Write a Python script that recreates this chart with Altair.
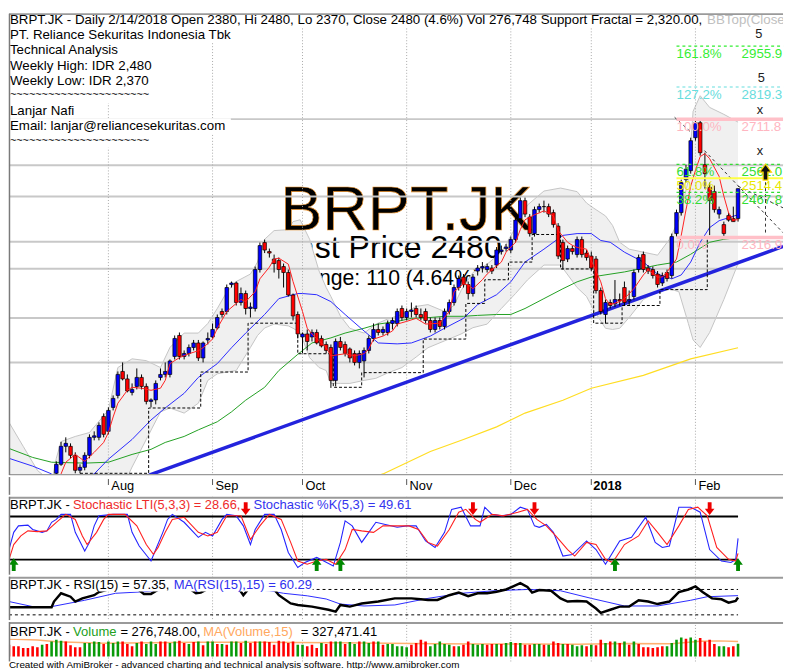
import altair as alt
import pandas as pd

FONT = "Liberation Sans"
W = 785
HP, HS, HK, HR, HV = 468, 18, 79, 44, 40

# ---------------- daily candles (index 0 = first visible bar, mid July 2017) ----------------
opens = [1530, 1560, 1620, 1620, 1590, 1540, 1550, 1590, 1650, 1650,
         1720, 1670, 1750, 1790, 1870, 1845, 1800, 1820, 1850, 1820,
         1770, 1775, 1850, 1860, 1860, 1920, 1990, 1920, 1930, 1950,
         1965, 1915, 1975, 1985, 2015, 2070, 2070, 2160, 2165, 2100,
         2130, 2080, 2080, 2210, 2300, 2270, 2245, 2240, 2220, 2200,
         2125, 2060, 1985, 1995, 1985, 2000, 1980, 1960, 1950, 1840,
         1970, 1960, 1945, 1930, 1900, 1905, 1940, 1980, 2010, 2000,
         2000, 2030, 2030, 2080, 2050, 2070, 2080, 2060, 2070, 2040,
         2010, 2040, 2020, 2070, 2100, 2150, 2185, 2160, 2130, 2205,
         2215, 2210, 2215, 2225, 2270, 2280, 2275, 2310, 2380, 2440,
         2385, 2330, 2410, 2420, 2420, 2400, 2355, 2300, 2245, 2280,
         2260, 2310, 2265, 2255, 2245, 2140, 2060, 2100, 2095, 2110,
         2150, 2105, 2120, 2210, 2260, 2215, 2210, 2195, 2165, 2200,
         2190, 2330, 2400, 2510, 2540, 2650, 2700, 2560, 2485, 2470,
         2395, 2360, 2390, 2380, 2380]
highs = [1570, 1635, 1650, 1630, 1600, 1560, 1600, 1660, 1670, 1700,
         1730, 1750, 1790, 1870, 1900, 1860, 1830, 1880, 1860, 1830,
         1780, 1840, 1880, 1900, 1910, 1990, 2000, 1940, 1960, 1975,
         1975, 1970, 2000, 2030, 2060, 2080, 2160, 2170, 2170, 2150,
         2140, 2100, 2220, 2300, 2310, 2280, 2260, 2250, 2230, 2210,
         2130, 2070, 2000, 2010, 2010, 2010, 1990, 1970, 1960, 1980,
         1985, 1970, 1950, 1940, 1940, 1950, 1990, 2030, 2030, 2020,
         2040, 2050, 2080, 2090, 2080, 2100, 2090, 2080, 2080, 2050,
         2050, 2050, 2080, 2110, 2160, 2190, 2195, 2170, 2195, 2225,
         2235, 2230, 2225, 2285, 2290, 2295, 2320, 2385, 2450, 2450,
         2395, 2420, 2430, 2440, 2430, 2410, 2365, 2310, 2290, 2290,
         2320, 2320, 2275, 2270, 2255, 2150, 2110, 2110, 2175, 2130,
         2170, 2140, 2210, 2260, 2270, 2225, 2220, 2205, 2200, 2210,
         2330, 2410, 2510, 2560, 2650, 2710, 2712, 2600, 2500, 2490,
         2420, 2370, 2400, 2420, 2480]
lows = [1510, 1555, 1600, 1580, 1530, 1530, 1540, 1580, 1640, 1640,
        1650, 1660, 1740, 1780, 1840, 1800, 1790, 1810, 1810, 1760,
        1750, 1760, 1840, 1850, 1850, 1910, 1910, 1910, 1920, 1940,
        1905, 1900, 1960, 1980, 2010, 2050, 2060, 2150, 2090, 2090,
        2060, 2050, 2070, 2200, 2265, 2250, 2200, 2180, 2150, 2120,
        2040, 1980, 1930, 1940, 1970, 1960, 1950, 1930, 1815, 1820,
        1940, 1920, 1900, 1890, 1880, 1850, 1930, 1970, 1990, 1990,
        1990, 2010, 2020, 2040, 2040, 2050, 2050, 2040, 2030, 2000,
        2000, 2010, 2010, 2060, 2090, 2140, 2150, 2110, 2120, 2190,
        2200, 2200, 2195, 2215, 2260, 2270, 2265, 2300, 2370, 2385,
        2320, 2320, 2400, 2400, 2385, 2350, 2245, 2210, 2235, 2260,
        2250, 2250, 2240, 2205, 2130, 2060, 2030, 2080, 2085, 2090,
        2090, 2090, 2110, 2200, 2200, 2195, 2180, 2150, 2155, 2170,
        2180, 2320, 2390, 2500, 2530, 2640, 2590, 2480, 2325, 2400,
        2380, 2317, 2370, 2370, 2370]
closes = [1560, 1620, 1630, 1590, 1540, 1550, 1590, 1650, 1655, 1690,
          1660, 1740, 1780, 1860, 1845, 1805, 1810, 1850, 1820, 1770,
          1775, 1830, 1860, 1870, 1905, 1980, 1920, 1930, 1950, 1965,
          1915, 1965, 1980, 2010, 2050, 2060, 2150, 2165, 2100, 2130,
          2080, 2085, 2210, 2290, 2275, 2265, 2230, 2210, 2200, 2125,
          2055, 1995, 1995, 1970, 2000, 1965, 1955, 1940, 1840, 1970,
          1950, 1930, 1915, 1900, 1930, 1940, 1980, 2010, 2000, 2010,
          2030, 2040, 2070, 2050, 2070, 2075, 2060, 2050, 2040, 2010,
          2040, 2020, 2070, 2100, 2150, 2180, 2160, 2130, 2185, 2215,
          2220, 2220, 2205, 2275, 2275, 2285, 2310, 2375, 2440, 2395,
          2330, 2410, 2420, 2420, 2395, 2360, 2255, 2240, 2280, 2270,
          2310, 2260, 2250, 2215, 2140, 2070, 2100, 2090, 2110, 2105,
          2100, 2110, 2200, 2250, 2210, 2205, 2190, 2160, 2190, 2180,
          2320, 2400, 2500, 2545, 2640, 2700, 2600, 2530, 2440, 2410,
          2410, 2330, 2375, 2370, 2480]

month_idx = [11, 33, 52, 74, 96, 113, 135]
month_lab = ["Aug", "Sep", "Oct", "Nov", "Dec", "2018", "Feb"]

# ---------------- overlays on the price pane ----------------
fast_i = [0, 1, 2, 4, 6, 8, 10, 11, 12, 13, 15, 16, 18, 20, 22, 23, 24, 26, 28, 30,
          31, 33, 34, 36, 38, 39, 40, 42, 43, 45, 46, 47, 49, 50, 52, 53, 54, 55, 57, 58,
          61, 63, 65, 66, 67, 69, 71, 72, 74, 76, 78, 81, 83, 84, 86, 87, 88, 90, 91, 92,
          94, 95, 97, 98, 99, 101, 102, 103, 105, 106, 108, 109, 110, 112, 113, 115, 116, 117, 119, 120,
          122, 124, 125, 127, 128, 129, 131, 132, 133, 134, 135, 136, 137, 138, 140, 141, 142, 143, 144]
fast_v = [1500, 1528, 1567, 1593, 1570, 1600, 1633, 1666, 1718, 1764, 1807, 1817, 1814, 1807, 1814, 1840, 1896, 1916, 1929, 1939,
          1949, 1978, 2014, 2070, 2097, 2110, 2103, 2136, 2179, 2218, 2245, 2248, 2228, 2170, 2070, 2014, 1995, 1980, 1950, 1922,
          1929, 1922, 1929, 1945, 1978, 1988, 2005, 2028, 2037, 2047, 2028, 2031, 2070, 2136, 2162, 2159, 2146, 2176, 2195, 2209,
          2235, 2268, 2301, 2343, 2376, 2393, 2399, 2406, 2389, 2340, 2301, 2291, 2284, 2278, 2240, 2169, 2113, 2093, 2103, 2113,
          2146, 2192, 2209, 2185, 2185, 2202, 2245, 2324, 2409, 2488, 2541, 2587, 2597, 2580, 2521, 2455, 2399, 2376, 2376]
mid_i = [-10, -5, -1, 1, 8, 11, 16, 20, 23, 27, 30, 34, 37, 40, 44, 47, 51, 52, 55, 58,
         61, 65, 68, 72, 75, 79, 82, 86, 89, 93, 96, 99, 103, 107, 110, 113, 115, 117, 120, 124,
         127, 130, 132, 134, 136, 138, 140, 142, 144]
mid_v = [1580, 1554, 1528, 1490, 1528, 1577, 1643, 1708, 1748, 1797, 1850, 1896, 1949, 1998, 2060, 2113, 2130, 2130, 2126, 2103,
         2060, 2005, 1965, 1962, 1965, 1988, 2014, 2047, 2093, 2126, 2169, 2235, 2278, 2324, 2330, 2330, 2307, 2301, 2268, 2235,
         2195, 2179, 2192, 2235, 2301, 2350, 2373, 2383, 2393]
slow_i = [-10, -5, -1, 6, 11, 16, 20, 23, 27, 30, 34, 37, 40, 44, 47, 51, 54, 58, 61, 65,
          68, 72, 75, 79, 82, 86, 89, 93, 96, 99, 103, 107, 110, 113, 120, 127, 131, 134, 138, 141, 144]
slow_v = [1613, 1583, 1567, 1564, 1567, 1593, 1610, 1633, 1653, 1675, 1702, 1735, 1774, 1817, 1873, 1927, 1965, 1982, 1998, 2014,
          2028, 2037, 2047, 2050, 2054, 2054, 2057, 2060, 2060, 2080, 2113, 2146, 2169, 2185, 2202, 2225, 2235, 2261, 2301, 2311, 2317]
long_i = [64, 69, 79, 86, 93, 99, 107, 113, 124, 134, 144]
long_v = [1500, 1528, 1603, 1643, 1685, 1731, 1774, 1814, 1857, 1912, 1949]

bb_i = [-10, -7, -4, -1, 0, 1, 4, 7, 11, 13, 16, 19, 22, 24, 27, 30, 32, 34, 36, 38,
        41, 42.5, 44, 46, 49, 50, 51.5, 53.5, 55.5, 57, 58, 60, 62, 65, 67.5, 70, 73, 76, 78.5, 82,
        84, 85.5, 88, 91, 94, 97, 99.5, 103, 106.5, 110, 112, 113.5, 116, 117.5, 119, 121, 124, 127, 129.5, 131.5,
        133.5, 134.5, 136, 138, 141, 144]
bb_up = [1700, 1620, 1540, 1500, 1580, 1636, 1653, 1666, 1741, 1883, 1912, 1906, 1883, 1950, 1998, 1998, 2030, 2080, 2135, 2170,
         2195, 2235, 2311, 2340, 2343, 2370, 2376, 2311, 2205, 2150, 2120, 2055, 2014, 1998, 2028, 2045, 2060, 2087, 2093, 2070,
         2090, 2140, 2200, 2228, 2268, 2350, 2425, 2472, 2482, 2470, 2432, 2415, 2389, 2357, 2301, 2278, 2268, 2258, 2311, 2376,
         2508, 2738, 2790, 2751, 2728, 2702]
bb_lo = [1450, 1440, 1430, 1420, 1420, 1420, 1420, 1420, 1430, 1450, 1551, 1643, 1735, 1748, 1731, 1764, 1840, 1862, 1868, 1873,
         1950, 1990, 2015, 2028, 2022, 2014, 2000, 1916, 1883, 1873, 1830, 1830, 1830, 1840, 1847, 1865, 1883, 1918, 1949, 1972,
         1985, 1995, 2016, 2028, 2080, 2130, 2175, 2225, 2225, 2150, 2120, 2075, 2014, 2010, 2014, 2050, 2110, 2135, 2146, 2136,
         2030, 1975, 1950, 2000, 2110, 2230]

step_i = [5, 19.5, 30.5, 40.5, 51, 58.5, 64.5, 77.5, 86.5, 90.5, 95.5, 100.5, 106.5, 113.5, 119.5, 127.5, 137.5, 144]
step_v = [1530, 1748, 1868, 2031, 1929, 1817, 1866, 1978, 2097, 2176, 2235, 2327, 2212, 2031, 2090, 2143, 2320, 2320]

trend_i = [19.6, 153.5]
trend_v = [1524, 2287]

sr_levels = [2712, 2558, 2454, 2303, 2213, 2048, 1900]

fib_pct = ["161.8%", "127.2%", "100.0%", "61.8%", "50.0%", "38.2%", "0.0%"]
fib_val = [2955.9, 2819.3, 2711.8, 2561.0, 2514.4, 2467.8, 2316.9]

proj_a_i, proj_a_v = [130.6, 134.2], [2718, 2666]
proj_b_i, proj_b_v = [136.9, 153.5], [2607, 2333]
proj_c_i, proj_c_v = [144, 153.5], [2488, 2416]
proj_d_i, proj_d_v = [149.8, 149.8], [2521, 2324]
wave_i = [148.4, 148.9, 148.6, 148.6]
wave_v = [2995, 2850, 2741, 2607]
wave_t = ["5", "5", "x", "x"]

# ---------------- stochastic ----------------
stk_i = [-10, -9, -8, -6, -5, -3, -2, -1, 0, 1, 3, 4, 6, 7, 8, 9, 12, 15, 16, 17.5,
         20, 21, 22.5, 23.5, 24.5, 27, 30, 31.5, 33, 35, 36, 38, 39.5, 41, 42, 44, 46, 47.5, 49, 51,
         52.5, 55, 56.5, 58.5, 60, 61, 62.5, 64.5, 66, 67.5, 69.5, 72, 74, 76, 78, 80, 82, 83.5, 85.5, 87.5,
         89.5, 90.5, 92, 94, 96, 98, 99.5, 101, 102, 103.5, 105, 107, 109, 112, 114, 116, 119, 121.5, 124.5, 126.5,
         128, 129.5, 131.5, 134, 136, 138, 140.5, 142.5, 143.5, 144]
stk_k = [34, 58, 67, 68, 62, 58, 60, 72, 76, 83, 83, 58, 32, 44, 67, 81, 83, 83, 58, 39,
         18, 34, 58, 76, 83, 72, 51, 58, 53, 76, 83, 81, 67, 41, 62, 83, 83, 62, 30, 9,
         16, 23, 18, 11, 44, 74, 67, 44, 58, 72, 69, 65, 67, 67, 46, 37, 58, 90, 93, 67,
         67, 93, 83, 81, 83, 93, 90, 67, 65, 69, 58, 25, 27, 46, 34, 13.5, 46, 51, 79, 44,
         37, 39, 93, 93, 86, 34, 18, 16, 20, 49.6]
std_i = [-10, -9, -7.5, -6, -4, -2, 0, 2, 4, 5.5, 6.5, 8.5, 10, 11, 14.5, 17, 19, 20.5, 21.5, 23,
         24.5, 27, 30, 32, 34, 36, 39, 41, 43, 45, 47.5, 49.5, 51, 53, 55, 57, 59, 61, 62.5, 64.5,
         67, 69, 71.5, 74.5, 76.5, 78.5, 80.5, 83, 85, 86.5, 88.5, 89.5, 92, 94.5, 97.5, 99.5, 101.5, 103.5, 105.5, 108,
         109.5, 112, 114, 116, 117.5, 120, 123, 125, 127, 129, 131.5, 133.5, 135.5, 137.5, 139.5, 142, 143.5, 144]
std_d = [20, 41, 53, 60, 59, 60, 72, 83, 76, 53, 41, 58, 76, 83, 83, 67, 41, 27.5, 37, 58,
         76, 79, 58, 53, 58, 81, 81, 48, 67, 83, 76, 44, 18, 13.5, 18, 20.5, 13.5, 34, 62, 60,
         58, 67, 67, 67, 62, 44, 39, 62, 86, 90, 76, 72, 83, 81, 86, 90, 76, 67, 53, 34,
         25, 44, 41, 20.5, 16, 41, 53, 74, 58, 41, 67, 90, 93, 81, 37, 20.5, 18, 28.7]
sell_i = [40, 88, 101, 138]
buy_i = [-9, 55, 60, 118, 144]

# ---------------- RSI ----------------
rsi_i = [-10, -1, -0.5, 1, 3, 4, 5.5, 8, 9, 10.5, 12, 15, 17, 18.5, 20, 22, 25, 28, 29.5, 30.5,
         33, 36, 38.5, 39.5, 40.5, 43, 45, 47, 49.5, 51, 54, 57.5, 59, 60, 62, 64.5, 68, 71.5, 75, 77,
         78.5, 80.5, 83, 85, 87, 89, 91, 93, 95, 96.5, 98, 99.5, 100.5, 102, 104.5, 106.5, 108, 110, 112, 114,
         115, 117, 119, 121, 123, 125, 127, 129.5, 131.5, 133.5, 135, 136.5, 138.5, 140.5, 142, 143.5, 144]
rsi_v = [42, 42, 51, 64, 58.6, 51, 56, 61, 66, 69, 75, 78, 72, 63, 63, 72, 78, 72, 64, 65,
         75, 80, 72, 61, 70, 82, 80, 61, 48, 45.6, 43, 38, 35, 45.6, 43, 48, 51, 56, 56, 54.5,
         53.4, 53.4, 61, 65, 59.6, 64, 64, 66.4, 70, 75, 80, 74, 65, 69, 68, 56, 51, 52, 51, 40,
         33, 38, 43, 43, 53, 51, 47, 51, 66, 70, 75, 66, 56, 54.5, 49.3, 52, 57.35]
rsima_i = [-10, -5, -1, 6, 12.5, 17.5, 25, 35, 45, 48, 53, 57, 60, 65, 71.5, 78.5, 85.5, 92.5, 99.5, 106.5,
           113, 120, 127, 134, 137.5, 144]
rsima_v = [51, 43, 43, 53, 64, 66, 70, 72, 68, 64, 60, 55, 47, 44, 45.6, 56, 64, 68, 70, 68,
           56, 44, 44, 53, 58.6, 60.3]

# ---------------- volume (thousands of shares), index -10 .. 144 ----------------
vol_k = [257, 221, 221, 185, 185, 221, 200, 257, 271, 328,
         364, 343, 328, 243, 200, 200, 292, 292, 328, 314,
         271, 328, 292, 328, 328, 271, 221, 292, 328, 271,
         328, 271, 328, 328, 292, 328, 343, 292, 271, 314,
         328, 243, 328, 328, 271, 271, 257, 328, 328, 292,
         343, 292, 328, 328, 328, 314, 257, 343, 328, 292,
         328, 257, 257, 221, 257, 185, 292, 271, 328, 328,
         328, 271, 314, 271, 328, 328, 292, 328, 328, 257,
         271, 271,
         221, 221, 200, 257, 292, 364, 328, 221, 271, 328,
         271, 257, 221, 221, 257, 328, 271, 257, 271, 257,
         271, 271, 271, 292, 314, 292, 292, 257, 257, 271,
         271, 257, 257, 328, 292, 271, 271, 257, 221, 243,
         221, 257, 243, 364, 292, 328, 328, 292, 328, 257,
         328, 271, 200, 200, 185, 200, 221, 221, 292, 364,
         414, 385, 414, 364, 400, 328, 364, 271, 221, 221,
         200, 221, 277]
vol_up = [0, 0, 0, 0, 0, 0, 0, 1, 0, 1,
          1, 1, 0, 0, 0, 0, 1, 1, 1, 1,
          0, 1, 1, 1, 0, 0, 0, 1, 0, 1,
          1, 1, 0, 0, 1, 1, 0, 0, 1, 0,
          1, 0, 1, 1, 0, 1, 0, 1, 1, 0,
          1, 0, 0, 1, 0, 0, 0, 0, 0, 0,
          0, 1, 1, 0, 0, 0, 1, 0, 0, 1,
          1, 0, 1, 1, 0, 1, 1, 0, 1, 0,
          1, 1,
          1, 1, 1, 0, 0, 0, 0, 1, 1, 1,
          1, 1, 0, 1, 0, 0, 1, 1, 1, 0,
          0, 1, 0, 1, 1, 0, 1, 0, 0, 1,
          1, 0, 1, 0, 0, 1, 0, 1, 1, 1,
          0, 1, 0, 0, 1, 0, 1, 0, 1, 0,
          1, 0, 0, 0, 0, 0, 0, 1, 1, 1,
          1, 0, 1, 1, 0, 0, 0, 0, 1, 1,
          0, 0, 1]
volma_i = [-10, -4, 0, 10, 20, 30, 40, 50, 60, 70, 80, 90, 100, 110, 120, 130, 136, 140, 144]
volma_v = [380, 360, 320, 290, 300, 310, 310, 305, 300, 290, 280, 270, 270, 265, 285, 280, 330, 340, 327]

# ======================= building blocks =======================
XS = alt.Scale(domain=[-10, 153.5], nice=False, zero=False, padding=0)
PY = alt.Scale(domain=[1524, 3064], nice=False, zero=False, padding=0)
KY = alt.Scale(domain=[-1, 107.5], nice=False, zero=False, padding=0)
RY = alt.Scale(domain=[21.8, 90.2], nice=False, zero=False, padding=0)
VY = alt.Scale(domain=[-107, 749], nice=False, zero=False, padding=0)
ONE = pd.DataFrame({"a": [0]})


def X(f="i"):
    return alt.X(f + ":Q", scale=XS, axis=None)


def txt(s, x, y, size=13.5, color="#000000", weight="normal", baseline="middle", align="left",
        clip=False, stroke=None, sw=0):
    kw = dict(text=s, font=FONT, fontSize=size, color=color, fontWeight=weight,
              baseline=baseline, align=align, clip=clip)
    if stroke:
        kw["stroke"] = stroke
        kw["strokeWidth"] = sw
    return alt.Chart(ONE).mark_text(**kw).encode(x=alt.value(x), y=alt.value(y))


def box(x0, x1, y0, y1, color="white"):
    return alt.Chart(ONE).mark_rect(color=color).encode(
        x=alt.value(x0), x2=alt.value(x1), y=alt.value(y0), y2=alt.value(y1))


def hline(y, x0, x1, color, width):
    return alt.Chart(ONE).mark_rule(color=color, strokeWidth=width).encode(
        x=alt.value(x0), x2=alt.value(x1), y=alt.value(y))


def vline(x, y0, y1, color, width):
    return alt.Chart(ONE).mark_rule(color=color, strokeWidth=width).encode(
        x=alt.value(x), y=alt.value(y0), y2=alt.value(y1))


mdf = pd.DataFrame({"i": month_idx, "lab": month_lab})


def vgrid(h):
    return alt.Chart(mdf).mark_rule(color="#a8a8a8", strokeDash=[1, 2], strokeWidth=1).encode(
        x=X(), y=alt.value(0), y2=alt.value(h))


def line(i, v, scale, color, width=1.0, dash=None, interp=None):
    kw = dict(color=color, strokeWidth=width, clip=True)
    if dash:
        kw["strokeDash"] = dash
    if interp:
        kw["interpolate"] = interp
    df = pd.DataFrame({"i": i, "v": v})
    return alt.Chart(df).mark_line(**kw).encode(x=X(), y=alt.Y("v:Q", scale=scale, axis=None))


# ======================= price pane =======================
cdf = pd.DataFrame({"i": list(range(len(opens))), "o": opens, "h": highs, "l": lows, "c": closes})
up_c = cdf[cdf.c >= cdf.o]
dn_c = cdf[cdf.c < cdf.o]
bdf = pd.DataFrame({"i": bb_i, "up": bb_up, "lo": bb_lo})

price_layers = [
    txt("Last Price 2480", 274, 248, size=32.5, baseline="alphabetic"),
    txt("Change: 110 (4.64%)", 275, 275, size=21.5, baseline="alphabetic"),
    alt.Chart(bdf).mark_area(color="#f0f0f0", opacity=1, clip=True).encode(
        x=X(), y=alt.Y("up:Q", scale=PY, axis=None), y2="lo:Q"),
    line(bb_i, bb_up, PY, "#c4c4c4", 1),
    line(bb_i, bb_lo, PY, "#c4c4c4", 1),
    txt("BRPT.JK", 275, 219, size=64, baseline="alphabetic", stroke="#e8902a", sw=0.7),
    alt.Chart(pd.DataFrame({"v": sr_levels})).mark_rule(color="#c8c8c8", strokeWidth=2).encode(
        y=alt.Y("v:Q", scale=PY, axis=None), x=alt.value(0), x2=alt.value(W)),
    vgrid(HP),
    box(0, W, 0, 14), box(0, 228, 14, 29), box(0, 112, 29, 45), box(0, 142, 45, 60),
    box(0, 138, 60, 75), box(0, 170, 75, 91), box(0, 65, 91, 106), box(0, 225, 106, 121),
    box(0, 170, 121, 136),
    txt("BRPT.JK - Daily 2/14/2018 Open 2380, Hi 2480, Lo 2370, Close 2480 (4.6%) Vol 276,748 Support Fractal = 2,320.00,", 1, 7),
    txt("BBTop(Close", 708, 7, color="#c0c0c0", clip=True),
    txt("PT. Reliance Sekuritas Indonesia Tbk", 1, 22),
    txt("Technical Analysis", 1, 37),
    txt("Weekly High: IDR 2,480", 1, 53),
    txt("Weekly Low: IDR 2,370", 1, 68),
    txt("~" * 22, 1, 83, size=11),
    txt("Lanjar Nafi", 1, 99),
    txt("Email: lanjar@reliancesekuritas.com", 1, 114),
    txt("~" * 22, 1, 129, size=11),
    line(long_i, long_v, PY, "#ffdd22", 1.2),
    line(slow_i, slow_v, PY, "#22a022", 1),
    line(mid_i, mid_v, PY, "#2a2aff", 1),
    line(trend_i, trend_v, PY, "#2323dd", 3.5),
    line(step_i, step_v, PY, "#000000", 1, dash=[3, 2], interp="step-after"),
    alt.Chart(cdf).mark_rule(color="black", strokeWidth=1, clip=True).encode(
        x=X(), y=alt.Y("l:Q", scale=PY, axis=None), y2="h:Q"),
    alt.Chart(up_c).mark_bar(size=3.6, color="#0000ff", stroke="black", strokeWidth=0.7, clip=True).encode(
        x=X(), y=alt.Y("o:Q", scale=PY, axis=None), y2="c:Q"),
    alt.Chart(dn_c).mark_bar(size=3.6, color="#ff0000", stroke="black", strokeWidth=0.7, clip=True).encode(
        x=X(), y=alt.Y("o:Q", scale=PY, axis=None), y2="c:Q"),
    line(fast_i, fast_v, PY, "#ff2020", 1),
    line(proj_a_i, proj_a_v, PY, "#333333", 1, dash=[3, 3]),
    line(proj_b_i, proj_b_v, PY, "#333333", 1, dash=[3, 3]),
    line(proj_c_i, proj_c_v, PY, "#333333", 1, dash=[3, 3]),
    line(proj_d_i, proj_d_v, PY, "#333333", 1, dash=[3, 3]),
]

fib_style = {
    "161.8%": ("#33ee33", [3, 3], 1.2, "#33ee33"),
    "127.2%": ("#66dddd", [3, 3], 1.2, "#66dddd"),
    "100.0%": ("#ffc0c8", None, 3.5, "#ffb6c1"),
    "61.8%": ("#33dd33", [3, 3], 1.2, "#33dd33"),
    "50.0%": ("#ffff44", None, 2, "#e8e800"),
    "38.2%": ("#33dd33", [3, 3], 1.2, "#33dd33"),
    "0.0%": ("#ffc0c8", None, 3.5, "#ffb6c1"),
}
for p, v in zip(fib_pct, fib_val):
    col, dash, wdt, tcol = fib_style[p]
    d = pd.DataFrame({"x1": [131.0], "x2": [153.5], "v": [v], "p": [p], "t": [f"{v:.1f}"]})
    kw = dict(color=col, strokeWidth=wdt)
    if dash:
        kw["strokeDash"] = dash
    price_layers.append(alt.Chart(d).mark_rule(**kw).encode(
        x=X("x1"), x2="x2:Q", y=alt.Y("v:Q", scale=PY, axis=None)))
    price_layers.append(alt.Chart(d).mark_text(font=FONT, fontSize=13.5, color=tcol, align="left",
                                               baseline="top", dy=1).encode(
        x=X("x1"), y=alt.Y("v:Q", scale=PY, axis=None), text="p:N"))
    price_layers.append(alt.Chart(d).mark_text(font=FONT, fontSize=13.5, color=tcol, align="left",
                                               baseline="top", dy=1, dx=66, clip=True).encode(
        x=X("x1"), y=alt.Y("v:Q", scale=PY, axis=None), text="t:N"))

price_layers += [
    alt.Chart(pd.DataFrame({"i": wave_i, "v": wave_v, "t": wave_t})).mark_text(
        font=FONT, fontSize=13, color="#202020").encode(
        x=X(), y=alt.Y("v:Q", scale=PY, axis=None), text="t:N"),
    alt.Chart(pd.DataFrame({"i": [149.8], "v": [2535]})).mark_point(
        shape="M-0.3,1L0.3,1L0.3,0L0.75,0L0,-1L-0.75,0L-0.3,0Z", size=260, filled=True,
        color="#111111", stroke="#ffd700", strokeWidth=1.2, opacity=1).encode(
        x=X(), y=alt.Y("v:Q", scale=PY, axis=None)),
    hline(0.5, 0, W, "#9a9a9a", 2),
    hline(HP - 0.5, 0, W, "#9a9a9a", 1.5),
    vline(0.5, 0, HP, "#7a7a7a", 1.5),
]
price = alt.layer(*price_layers).properties(width=W, height=HP)

# ======================= date strip =======================
strip = alt.layer(
    alt.Chart(mdf).mark_rule(color="#555555", strokeWidth=1).encode(x=X(), y=alt.value(2), y2=alt.value(8)),
    alt.Chart(mdf[mdf.lab != "2018"]).mark_text(font=FONT, fontSize=13, align="left", dx=3,
                                               baseline="middle").encode(x=X(), y=alt.value(9), text="lab:N"),
    alt.Chart(mdf[mdf.lab == "2018"]).mark_text(font=FONT, fontSize=13, fontWeight="bold", align="left",
                                               dx=2, baseline="middle").encode(x=X(), y=alt.value(9), text="lab:N"),
    vline(0.5, 0, HS, "#7a7a7a", 1.5),
).properties(width=W, height=HS)

# ======================= stochastic =======================
lv = pd.DataFrame({"x1": [-10, -10], "x2": [144, 144], "v": [80, 20]})
down_shape = "M-0.3,-1L0.3,-1L0.3,0L0.75,0L0,1L-0.75,0L-0.3,0Z"
up_shape = "M-0.3,1L0.3,1L0.3,0L0.75,0L0,-1L-0.75,0L-0.3,0Z"
stoch = alt.layer(
    vgrid(HK),
    box(0, 408, 1, 16),
    txt("BRPT.JK - ", 1, 8.7, size=13.2),
    txt("Stochastic LTI(5,3,3) = 28.66,", 65, 8.7, size=13.0, color="#ee2a2a"),
    txt("Stochastic %K(5,3) = 49.61", 248, 8.7, size=13.2, color="#3434ee"),
    alt.Chart(lv).mark_rule(color="black", strokeWidth=2).encode(
        x=X("x1"), x2="x2:Q", y=alt.Y("v:Q", scale=KY, axis=None)),
    line(stk_i, stk_k, KY, "#2424ff", 1.1),
    line(std_i, std_d, KY, "#ff2020", 1.1),
    alt.Chart(pd.DataFrame({"i": sell_i, "v": [91] * len(sell_i)})).mark_point(
        shape=down_shape, size=170, filled=True, color="#ee0000", opacity=1).encode(
        x=X(), y=alt.Y("v:Q", scale=KY, axis=None)),
    alt.Chart(pd.DataFrame({"i": buy_i, "v": [13] * len(buy_i)})).mark_point(
        shape=up_shape, size=170, filled=True, color="#008800", opacity=1).encode(
        x=X(), y=alt.Y("v:Q", scale=KY, axis=None)),
    hline(1, 0, W, "#9a9a9a", 2),
    vline(0.5, 0, HK, "#7a7a7a", 1.5),
).properties(width=W, height=HK)

# ======================= RSI =======================
rl = pd.DataFrame({"x1": [-10, -10], "x2": [144, 144], "v": [70, 30]})
rsi = alt.layer(
    vgrid(HR),
    alt.Chart(rl).mark_rule(color="black", strokeWidth=1, strokeDash=[3, 3]).encode(
        x=X("x1"), x2="x2:Q", y=alt.Y("v:Q", scale=RY, axis=None)),
    line(rsima_i, rsima_v, RY, "#2a2aff", 1),
    line(rsi_i, rsi_v, RY, "#000000", 2.5),
    box(0, 308, 2, 15),
    txt("BRPT.JK - RSI(15) = 57.35,", 1, 8.7, size=13.2),
    txt("MA(RSI(15),15) = 60.29", 167, 8.7, size=13.2, color="#3030ee"),
    hline(1, 0, W, "#9a9a9a", 2),
    vline(0.5, 0, HR, "#7a7a7a", 1.5),
).properties(width=W, height=HR)

# ======================= volume =======================
vdf = pd.DataFrame({"i": list(range(-10, -10 + len(vol_k))), "v": vol_k, "u": vol_up})
volume = alt.layer(
    vgrid(HV),
    line(volma_i, volma_v, VY, "#ffb070", 1.5),
    alt.Chart(vdf[vdf.u == 1]).mark_bar(size=2.6, color="#0a9a0a", clip=True).encode(
        x=X(), y=alt.Y("v:Q", scale=VY, axis=None), y2=alt.datum(0)),
    alt.Chart(vdf[vdf.u == 0]).mark_bar(size=2.6, color="#ff0000", clip=True).encode(
        x=X(), y=alt.Y("v:Q", scale=VY, axis=None), y2=alt.datum(0)),
    box(0, 372, 2, 17),
    txt("BRPT.JK - ", 1, 9.7, size=13.2),
    txt("Volume", 65, 9.7, size=13.2, color="#22a022"),
    txt("= 276,748.00,", 113, 9.7, size=13.2),
    txt("MA(Volume,15)", 197, 9.7, size=13.2, color="#ffa860"),
    txt("= 327,471.41", 296, 9.7, size=13.2),
    txt("Created with AmiBroker - advanced charting and technical analysis software. http://www.amibroker.com",
        0, 43.5, size=10),
    hline(1, 0, W, "#9a9a9a", 2),
    vline(0.5, 0, HV, "#7a7a7a", 1.5),
).properties(width=W, height=HV)

chart = alt.vconcat(price, strip, stoch, rsi, volume, spacing=0).resolve_scale(
    x="independent", y="independent").properties(padding=0).configure_view(stroke=None)

chart.save("out.html", embed_options={"renderer": "svg", "actions": False})
